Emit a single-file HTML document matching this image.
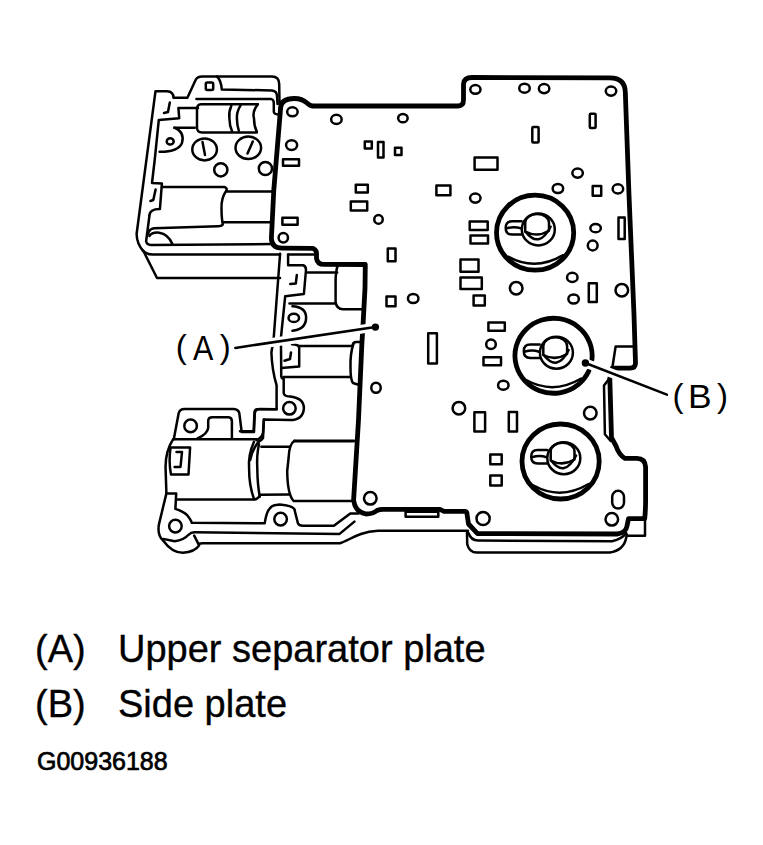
<!DOCTYPE html>
<html><head><meta charset="utf-8">
<style>
html,body{margin:0;padding:0;background:#fff;width:763px;height:845px;overflow:hidden}
svg{position:absolute;left:0;top:0}
.t{position:absolute;font-family:"Liberation Sans",sans-serif;white-space:nowrap;color:#000;line-height:1}
</style></head><body>
<svg width="763" height="845" viewBox="0 0 763 845">
<g fill="none" stroke="#000" stroke-width="2.5" stroke-linejoin="round" stroke-linecap="round" id="lines">
<!-- ===== LEFT TOP BODY ===== -->
<path d="M280,278 L157,278 L143.8,251.8 Q136.8,244 136.6,234 L155.5,91.2 L167,91.2 Q173.5,91.5 173.5,97.8 L187.4,97.8 L195.6,80 Q197.5,76.5 202,76.5 L272,76.5 Q279,76.5 279.2,84 L279.5,104"/>
<path d="M217,76.5 Q221,80 221.8,89.6 L272,90.4 Q277,91 277,96 L277.5,104"/>
<path d="M196.4,99 L271,98.9 Q273.8,99.5 273.8,103 L273.8,112 Q274.5,114.4 278,114.4"/>
<path d="M198,107.9 L178.4,107.9 L179.2,118.2 L158.8,119.9 L154.7,160 L152,183 L161.9,183.6 L159.9,209.1 Q149.4,209 149.4,216 L146.1,241.3 Q147,245 151,245 L272,244"/>
<path d="M169.8,102.5 L168,112 L164,113"/>
<path d="M155.6,189.5 L153.3,200 L150.5,201"/>
<path d="M142.5,250 Q146,254.6 153,254.6 L280,254.6"/>
<!-- top cylinder -->
<path d="M257.8,104.2 L201,104.2 Q197,104.5 197,109 L197,128 Q197.3,132.4 202,132.4 L256.8,132.4"/>
<path d="M257.8,104.2 Q252,112 254,118.4 Q254,126 256.8,131.7"/>
<path d="M231.3,106 Q228.5,112 229.4,118.4 Q229.5,126 232.2,131.7"/>
<path d="M240.7,105.2 Q236.5,112 236.9,118.4 Q237,125 238.8,130.7"/>
<path d="M174.3,127.7 L194.8,127.7"/>
<path d="M174.3,127.7 Q185,132 182,143 Q178,152 159.6,151.8"/>
<ellipse cx="170.2" cy="141.4" rx="3.5" ry="3.2"/>
<ellipse cx="204.6" cy="149.4" rx="12.3" ry="11"/>
<path d="M202.5,142 L205,155"/>
<ellipse cx="248.3" cy="147.8" rx="12.8" ry="11.2"/>
<path d="M252.8,141.5 L247.5,153.5"/>
<circle cx="220.8" cy="169.8" r="6.60"/>
<circle cx="265.4" cy="168.5" r="6.60"/>
<!-- lower cylinder -->
<path d="M161.9,186.9 L224.1,186.9 Q227,188 226.7,190 Q221,198 221.5,208.5 Q221.5,218 222.8,224.2 Q222,226.2 218,226.2 L154,228.2 Q149,229 148,234"/>
<path d="M227,191.5 L272.9,191.5"/>
<path d="M223,222.3 L271,222.3"/>
<path d="M149.4,236 Q152,232 159.2,232.7 Q168,234 172.4,243.9"/>
<!-- (A) leader area middle body -->
<path d="M280.1,253.7 L273.7,338 L271.4,352.5 Q272,370 276.6,385.3 L276.6,409.2 L257,409.2 Q254.5,409.5 254.5,412.6 L253.6,431.3 L240,431.3"/>
<path d="M288.1,254.4 L314,254.4"/>
<path d="M288.1,254.4 L288.1,265.2 L303.2,265.2 Q306,266 306,270 L303.9,294 L285.2,296.2 L280.9,338 L281.2,368 L281.2,376 Q281.5,378.5 283.7,378.5 L283.7,393 Q284,396.5 290,396.5 Q303.9,398 303.9,408.3 Q303,420 290,420 L263.9,419.4 L263,438.2 Q262,440 258.7,441.6"/>
<path d="M296.8,275.1 L295.8,283.5 L290.2,284.1"/>
<path d="M307.5,272.4 L337.1,272.4"/>
<path d="M337.8,265 Q335.5,272 335.6,282 L335.6,302 Q336.5,309.2 343,309.2 L364,309.2"/>
<path d="M289.5,303.4 L335.6,303.4"/>
<path d="M292.4,306.3 Q306.1,307 306.1,317.9 Q306,329 292.4,330.8"/>
<ellipse cx="293.8" cy="317.9" rx="5.25" ry="4.15"/>
<path d="M291.9,344.3 Q299.2,344.5 299.2,348 L299.2,366.4 L281.2,368.1"/>
<path d="M299.2,346 L352.5,346"/>
<path d="M283.7,377.1 L350,377.1"/>
<path d="M353.5,343.5 Q350,354 350.5,368 Q350.5,380 353,383 L357.6,384.5"/>
<path d="M352.5,346 Q353,342 356,342 L360,342"/>
<path d="M291,352.5 L290,359 L284.5,360.7"/>
<circle cx="289.4" cy="408.3" r="6.30"/>
<!-- ===== BOTTOM LEFT BODY ===== -->
<path d="M173.8,439.3 L178.7,413.1 Q180,409 184.4,409 L233.6,409 Q238.5,409.5 239.3,413.1 L241.7,432 L254,432 L254.8,413.1 Q255.5,409 259.8,409 L276.6,409.2"/>
<circle cx="190.6" cy="425.9" r="6.30"/>
<path d="M197.5,438.5 Q207.5,434 208.2,427.9 L208.2,420.5 Q208.5,417.2 212.3,417.2 L228.6,417.2 Q231.9,417.5 231.9,421.3 L231.9,438.5"/>
<path d="M263.9,419.4 L263,432.8 Q262,438 256.5,440.1"/>
<path d="M173.8,439.3 L256.5,439.3"/>
<path d="M173,439.3 Q165,452 165.6,468.8 L166.4,493.4 L159,524.1 Q157,535 163.1,540.5 Q172,552.8 182.8,552.8 Q195,552 199.1,545.4 L194.2,535.6"/>
<path d="M199.1,543.8 L202.4,543.3 L340,543.3 C350,540 358,532 378,530.8 L468,530.8"/>
<path d="M163.1,538.9 L174.6,541.3 Q184,540 188.5,534.8 Q191,532.3 194.2,532.3 L339.6,533.9 L354.4,521.6"/>
<path d="M170.5,447.5 L190.1,447.5 L188.5,474.5 L171,474.5 Q168.5,462 170.5,447.5"/>
<path d="M176.5,452 L182,452 L180.5,467 L174.6,467"/>
<path d="M254,441.8 Q248,455 249.1,468.8 Q249,485 254,499.1"/>
<path d="M259,444.2 Q256.5,455 257.3,468.8 Q257.5,485 259.8,496.7"/>
<path d="M176.2,499.6 L254.8,499.6 Q258,499 260.6,494.7 L288.8,494.5"/>
<path d="M261.4,446.7 L289.4,446.7"/>
<path d="M166.4,493.4 L176.2,493.4 L175.4,508.9 Q183,511.4 187,515 Q191,520 191.8,522.8 L264.7,523.3 Q266,515 268,511 Q271,506 274.5,505.3 L279.8,504.4 Q294.6,506 294.6,510.1 L297.9,523.2 Q299,525.7 303,525.7 L333.9,525.7 L350.3,513.4 L358.5,513.4"/>
<circle cx="175.4" cy="526.1" r="6.30"/>
<circle cx="280.6" cy="519.1" r="6.30"/>
<path d="M294.5,440.7 L354.2,440.7"/>
<path d="M294.5,440.7 Q289,444 288.6,458 Q287.2,471 287.2,471 Q287.5,495 293.8,501.1 L351.9,501.1"/>
<path d="M353.6,441.3 L294.6,441.3"/>
<path d="M258.7,441.6 Q252,450 250.2,460"/>
<circle cx="370.3" cy="498.3" r="6.30"/>
<!-- bottom shadow lines -->
<path d="M468.4,533 Q471,540.5 478,540.5 L612,541.2 Q622,539 626.2,533"/>
<path d="M627,535.8 L645,535.8 L645,520"/>
<path d="M467,531.4 L467.2,544 Q469,552.6 477,552.6 L609.7,552.6 Q624,550 626.2,537.7 L627,534.6"/>
<path d="M405.6,511.7 L438.3,511.7 L438.3,516.7 L405.6,516.7 Z"/>
<!-- ===== PLATE HOLES ===== -->
<ellipse cx="292.4" cy="111.8" rx="5.25" ry="4.55"/>
<ellipse cx="336.4" cy="119.4" rx="5.25" ry="4.55"/>
<ellipse cx="291.6" cy="145.1" rx="5.55" ry="4.85"/>
<rect x="283" y="159.2" width="16" height="6.6"/>
<rect x="205.8" y="82.6" width="7.4" height="7.4" rx="1.5"/>
<rect x="364.8" y="141.4" width="7" height="7"/>
<rect x="378" y="142" width="5.5" height="15.5"/>
<rect x="395" y="147.7" width="6.5" height="7.4"/>
<ellipse cx="402.9" cy="118.2" rx="4.75" ry="4.15"/>
<ellipse cx="475.4" cy="89.4" rx="5.1" ry="4.3"/>
<rect x="355.8" y="184.8" width="12" height="7.6"/>
<rect x="350.8" y="201.4" width="16.4" height="9"/>
<ellipse cx="378.5" cy="219.4" rx="4.25" ry="4.35"/>
<rect x="474.6" y="157.6" width="22.9" height="12.2"/>
<rect x="436.4" y="185.4" width="14" height="9.8"/>
<ellipse cx="475.3" cy="198.1" rx="5.25" ry="4.55"/>
<rect x="469.7" y="221.4" width="18" height="8.6"/>
<rect x="470.5" y="235.5" width="17.5" height="8.1"/>
<rect x="282.4" y="217.8" width="15.2" height="7"/>
<circle cx="283.3" cy="237.7" r="4.70"/>
<rect x="387.8" y="248.6" width="7.7" height="12.6"/>
<rect x="460.5" y="259.5" width="18" height="12.3"/>
<rect x="460.5" y="277.6" width="21.3" height="11.4"/>
<rect x="386.5" y="296.4" width="9" height="9.8"/>
<ellipse cx="413.2" cy="298.5" rx="5.25" ry="4.55"/>
<rect x="473.6" y="295.6" width="11.2" height="9.8"/>
<ellipse cx="524.5" cy="88.2" rx="5.25" ry="4.55"/>
<ellipse cx="544.1" cy="88.6" rx="5.25" ry="4.55"/>
<ellipse cx="611" cy="91.1" rx="5.25" ry="4.55"/>
<rect x="532.3" y="126.9" width="6.3" height="15.7" rx="1"/>
<rect x="589.8" y="113.8" width="5.8" height="14.1" rx="1"/>
<ellipse cx="577.6" cy="173.1" rx="5.25" ry="4.55"/>
<ellipse cx="557.9" cy="188.5" rx="5.25" ry="4.55"/>
<rect x="592.7" y="186" width="8.5" height="9.8"/>
<ellipse cx="617.9" cy="188.9" rx="5.25" ry="4.55"/>
<ellipse cx="595.6" cy="228.2" rx="5.25" ry="4.15"/>
<circle cx="592.7" cy="245.5" r="4.90"/>
<rect x="618.5" y="217.4" width="6.2" height="21.6"/>
<ellipse cx="572.3" cy="277.4" rx="5.25" ry="4.55"/>
<circle cx="516.2" cy="288.2" r="6.30"/>
<rect x="588.8" y="283.3" width="8" height="18.7"/>
<ellipse cx="573.6" cy="299" rx="5.25" ry="4.55"/>
<circle cx="621.8" cy="290.2" r="6.30"/>
<rect x="428.2" y="333.2" width="8.7" height="30.4"/>
<rect x="488.4" y="322.4" width="16.4" height="8.4"/>
<circle cx="491" cy="344.3" r="4.80"/>
<rect x="483.5" y="357.3" width="17.5" height="8"/>
<ellipse cx="376" cy="387.7" rx="4.75" ry="5.05"/>
<ellipse cx="503.3" cy="385.2" rx="5.25" ry="4.55"/>
<circle cx="458.9" cy="408.2" r="6.30"/>
<rect x="474.4" y="412.3" width="10.7" height="19.2"/>
<rect x="508.8" y="412" width="8.2" height="19.5"/>
<circle cx="590.3" cy="413.1" r="6.30"/>
<rect x="490.3" y="454.4" width="11.4" height="9.8"/>
<rect x="490.3" y="475.4" width="11.4" height="10.1"/>
<circle cx="483.1" cy="518.5" r="6.6"/>
<rect x="612.2" y="490.8" width="11.8" height="17.7" rx="5.9"/>
<circle cx="611.8" cy="519.3" r="6.30"/>
<!-- accumulators -->
<g transform="translate(535.1,232.7)">
<path d="M-27,24 Q0,39 28,22.5"/>
<ellipse cx="3.2" cy="-3.3" rx="16.5" ry="16"/>
<path d="M-9.9,-1 L-9.9,-10 A11.9,8.7 0 0 1 13.9,-10 L13.9,-2 Q2,5.2 -9.9,-1 Z"/>
<path d="M-9.5,-1 Q4,16.5 15.5,-6"/>
<path d="M-13.5,-11.4 L-23,-11.4 Q-29.4,-11.4 -29.4,-4.75 Q-29.4,1.9 -23,1.9 L-13.5,1.9"/>
<path d="M-28,-4.5 Q-21,-6.5 -14,-4.3"/>
</g>
<g transform="translate(553.2,356)">
<path d="M-27,24 Q0,39 28,22.5"/>
<ellipse cx="3.2" cy="-3.3" rx="16.5" ry="16"/>
<path d="M-9.9,-1 L-9.9,-10 A11.9,8.7 0 0 1 13.9,-10 L13.9,-2 Q2,5.2 -9.9,-1 Z"/>
<path d="M-9.5,-1 Q4,16.5 15.5,-6"/>
<path d="M-13.5,-11.4 L-23,-11.4 Q-29.4,-11.4 -29.4,-4.75 Q-29.4,1.9 -23,1.9 L-13.5,1.9"/>
<path d="M-28,-4.5 Q-21,-6.5 -14,-4.3"/>
</g>
<g transform="translate(560.6,461.5)">
<path d="M-27,24 Q0,39 28,22.5"/>
<ellipse cx="3.2" cy="-3.3" rx="16.5" ry="16"/>
<path d="M-9.9,-1 L-9.9,-10 A11.9,8.7 0 0 1 13.9,-10 L13.9,-2 Q2,5.2 -9.9,-1 Z"/>
<path d="M-9.5,-1 Q4,16.5 15.5,-6"/>
<path d="M-13.5,-11.4 L-23,-11.4 Q-29.4,-11.4 -29.4,-4.75 Q-29.4,1.9 -23,1.9 L-13.5,1.9"/>
<path d="M-28,-4.5 Q-21,-6.5 -14,-4.3"/>
</g>
<!-- tab & side plate thin -->
<path d="M612.3,368 L615.6,346.6 L633.9,346.6"/>
<path d="M609.8,378 L604,385.5 L604.9,434.3 L610.7,441"/>
</g>
<g fill="none" stroke="#000" stroke-width="4.8" stroke-linejoin="round" stroke-linecap="round">
<!-- plate outline -->
<path d="M280.6,108 Q281,98.5 294.5,98.5 Q302,98.5 307,103 Q310,106 313,106 L458,106 Q463.5,106 463.5,100 L463.5,84 Q464,77.5 472,77.5 L610,77.8 Q625,78 625.3,92 L629,195 L634,315 L635.5,363 Q635.5,368.1 630,368.1 L612.3,368.1"/>
<path d="M280.6,108 L273.8,190 L271.4,238 Q271.5,248 282,248.1 L313,248.3 Q316.5,250 316.5,253 L316.5,258.5 Q317.5,264.4 324,264.4 L365.3,264.5 L365,288 L363.3,320 L361.8,345 L358.5,420 L353.6,500 Q355,512 366,514 Q373,514 377,510.5 Q380,509 385,509.4 L440,509.4 L444,511.3 L465,511.3 Q467,511.5 467,514 L468.5,524 L477.5,533.6 L617,534 Q626,533 627,526 L628.5,518.7 L644.7,518.7 Q645.6,510 645.6,500 L645.6,467 Q645,458.4 637,458.4 L625,458.4 Q619,455 616,446 L611.5,437.7 L609.8,378"/>
<!-- accumulator outers -->
<ellipse cx="535.1" cy="232.7" rx="38.6" ry="37.5"/>
<path d="M588.9,370.8 A38.6,37.5 0 1 1 591.9,360"/>
<ellipse cx="560.6" cy="461.5" rx="38.6" ry="37.5"/>
</g>
<!-- leader lines with white halo -->
<g stroke-linecap="round">
<path d="M235.3,347.9 L375.4,327.1" stroke="#fff" stroke-width="9"/>
<path d="M585.4,363 L666.9,394.7" stroke="#fff" stroke-width="9"/>
<path d="M235.3,347.9 L375.4,327.1" stroke="#000" stroke-width="2.5"/>
<path d="M585.4,363 L666.9,394.7" stroke="#000" stroke-width="2.5"/>
<circle cx="375.4" cy="327.1" r="3.7" fill="#000"/>
<circle cx="585.4" cy="363" r="3.7" fill="#000"/>
</g>
<g font-family="Liberation Sans" fill="#000">
<text x="175.8" y="358.3" font-size="33">(</text>
<text transform="translate(192.9,359.9) scale(0.87,1)" x="0" y="0" font-size="35">A</text>
<text x="219.8" y="358.3" font-size="33">)</text>
<text x="672.4" y="406.6" font-size="33">(</text>
<text transform="translate(687.9,407.9) scale(1.04,1)" x="0" y="0" font-size="34">B</text>
<text x="717" y="406.6" font-size="33">)</text>
</g>
</svg>
<div class="t" style="left:35px;top:628.6px;font-size:38px;-webkit-text-stroke:0.35px #000;transform:scaleY(1.045);transform-origin:0 0">(A)</div>
<div class="t" style="left:118px;top:628.6px;font-size:38px;-webkit-text-stroke:0.35px #000;transform:scaleY(1.045);transform-origin:0 0">Upper separator plate</div>
<div class="t" style="left:35px;top:683.5px;font-size:38px;-webkit-text-stroke:0.35px #000;transform:scaleY(1.045);transform-origin:0 0">(B)</div>
<div class="t" style="left:118px;top:683.5px;font-size:38px;-webkit-text-stroke:0.35px #000;transform:scaleY(1.045);transform-origin:0 0">Side plate</div>
<div class="t" style="left:37px;top:748.5px;font-size:25px;-webkit-text-stroke:0.7px #000">G00936188</div>
</body></html>
